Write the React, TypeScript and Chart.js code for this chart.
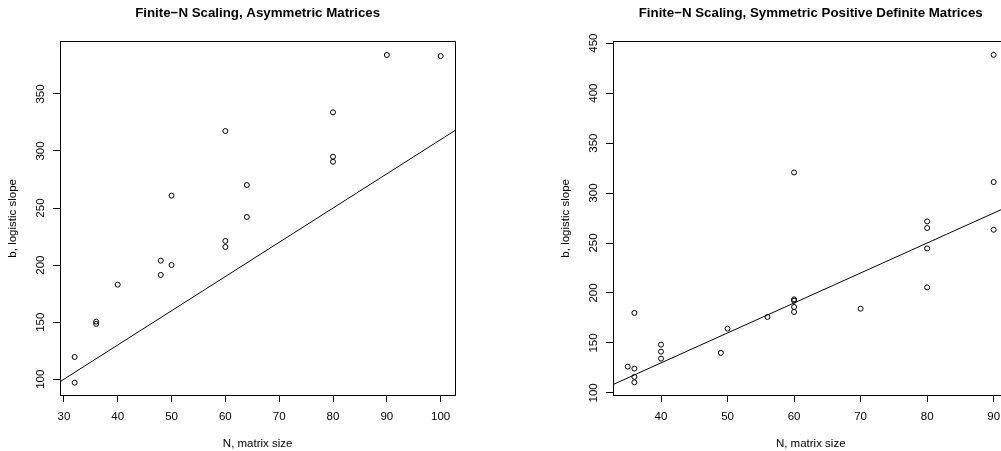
import React, { useEffect, useRef } from 'react';
import { Chart, registerables } from 'chart.js';

Chart.register(...registerables);

const FONT = '"Liberation Sans", Arial, Helvetica, sans-serif';

// ---- Left panel: asymmetric matrices ----
const ASYM_TITLE = 'Finite\u2212N Scaling, Asymmetric Matrices';
const ASYM_N = [32, 32, 36, 36, 40, 48, 48, 50, 50, 60, 60, 60, 64, 64, 80, 80, 80, 90, 100];
const ASYM_B = [97.0, 119.5, 148.5, 150.5, 182.9, 191.4, 203.9, 200.1, 260.9, 215.9, 221.2, 317.5, 242.2, 270.2, 290.6, 295.0, 333.9, 384.1, 383.2];
const ASYM_INTERCEPT = 10;
const ASYM_SLOPE = 3;
const ASYM_X_RANGE = [29.28, 102.72];
const ASYM_Y_RANGE = [86.2, 395.8];
const ASYM_X_TICKS = [30, 40, 50, 60, 70, 80, 90, 100];
const ASYM_Y_TICKS = [100, 150, 200, 250, 300, 350];

// ---- Right panel: symmetric positive definite matrices ----
const SPD_TITLE = 'Finite\u2212N Scaling, Symmetric Positive Definite Matrices';
const SPD_N = [35, 36, 36, 36, 36, 40, 40, 40, 49, 50, 56, 60, 60, 60, 60, 60, 70, 80, 80, 80, 80, 90, 90, 90];
const SPD_B = [126.3, 110.6, 116.0, 124.3, 180.0, 134.3, 141.3, 148.3, 140.0, 164.3, 176.0, 181.0, 186.0, 192.3, 193.6, 320.6, 184.3, 205.6, 244.6, 265.0, 271.6, 263.3, 311.0, 438.3];
const SPD_INTERCEPT = 10;
const SPD_SLOPE = 3;
const SPD_X_RANGE = [32.8, 92.2];
const SPD_Y_RANGE = [97.9, 451.5];
const SPD_X_TICKS = [40, 50, 60, 70, 80, 90];
const SPD_Y_TICKS = [100, 150, 200, 250, 300, 350, 400, 450];

const X_LABEL = 'N, matrix size';
const Y_LABEL = 'b, logistic slope';

const boxPlugin = {
  id: 'rbox',
  afterDatasetsDraw(chart: any) {
    const { ctx, chartArea } = chart;
    const l = Math.floor(chartArea.left) + 0.5;
    const t = Math.floor(chartArea.top) + 0.5;
    const r = Math.floor(chartArea.right) + 0.5;
    const b = Math.floor(chartArea.bottom) + 0.5;
    ctx.save();
    ctx.strokeStyle = '#000';
    ctx.lineWidth = 1;
    ctx.strokeRect(l, t, r - l, b - t);
    ctx.restore();
  },
};

type Panel = {
  title: string;
  xs: number[];
  ys: number[];
  intercept: number;
  slope: number;
  xRange: number[];
  yRange: number[];
  xTicks: number[];
  yTicks: number[];
  padLeft: number;
  padRight: number;
};

function makeConfig(p: Panel): any {
  const pts = p.xs.map((x, i) => ({ x, y: p.ys[i] }));
  const fit = p.xRange.map((x) => ({ x, y: p.intercept + p.slope * x }));
  return {
    type: 'scatter',
    data: {
      datasets: [
        {
          data: pts,
          pointStyle: 'circle',
          pointRadius: 2.5,
          pointBorderWidth: 1,
          pointBorderColor: '#000',
          pointBackgroundColor: 'rgba(0,0,0,0)',
          borderColor: '#000',
          backgroundColor: 'rgba(0,0,0,0)',
          showLine: false,
        },
        {
          data: fit,
          showLine: true,
          borderColor: '#000',
          borderWidth: 1,
          pointRadius: 0,
          tension: 0,
          fill: false,
        },
      ],
    },
    options: {
      responsive: false,
      animation: false,
      devicePixelRatio: 1,
      events: [],
      layout: { padding: { left: p.padLeft, right: p.padRight, top: 0, bottom: 0 } },
      plugins: {
        legend: { display: false },
        tooltip: { enabled: false },
        title: {
          display: true,
          text: p.title,
          fullSize: false,
          color: '#000',
          font: { family: FONT, size: 13.3, weight: 'bold', lineHeight: 1.2 },
          padding: { top: 5.4, bottom: 20.3 },
        },
      },
      scales: {
        x: {
          type: 'linear',
          position: 'bottom',
          min: p.xRange[0],
          max: p.xRange[1],
          afterBuildTicks: (s: any) => {
            s.ticks = p.xTicks.map((v) => ({ value: v }));
          },
          afterFit: (s: any) => {
            s.height = 56;
          },
          grid: { display: true, drawOnChartArea: false, drawTicks: true, tickLength: 7, color: '#000', tickColor: '#000', lineWidth: 1 },
          border: { display: false },
          ticks: {
            autoSkip: false,
            maxRotation: 0,
            minRotation: 0,
            padding: 8.4,
            color: '#000',
            font: { family: FONT, size: 11.5, lineHeight: 1.2 },
            callback: (v: any) => String(v),
          },
          title: {
            display: true,
            text: X_LABEL,
            color: '#000',
            font: { family: FONT, size: 11.5, lineHeight: 1.2 },
            padding: { top: 0, bottom: 0.3 },
          },
        },
        y: {
          type: 'linear',
          position: 'left',
          min: p.yRange[0],
          max: p.yRange[1],
          afterBuildTicks: (s: any) => {
            s.ticks = p.yTicks.map((v) => ({ value: v }));
          },
          afterFit: (s: any) => {
            s.width = 60;
          },
          grid: { display: true, drawOnChartArea: false, drawTicks: true, tickLength: 7, color: '#000', tickColor: '#000', lineWidth: 1 },
          border: { display: false },
          ticks: {
            autoSkip: false,
            minRotation: 90,
            maxRotation: 90,
            crossAlign: 'center',
            padding: 2.7,
            color: '#000',
            font: { family: FONT, size: 11.5, lineHeight: 1.2 },
            callback: (v: any) => String(v),
          },
          title: {
            display: true,
            text: Y_LABEL,
            color: '#000',
            font: { family: FONT, size: 11.5, lineHeight: 1.2 },
            padding: { top: 5.6, bottom: 0 },
          },
        },
      },
    },
    plugins: [boxPlugin],
  };
}

const LEFT_PANEL: Panel = {
  title: ASYM_TITLE,
  xs: ASYM_N,
  ys: ASYM_B,
  intercept: ASYM_INTERCEPT,
  slope: ASYM_SLOPE,
  xRange: ASYM_X_RANGE,
  yRange: ASYM_Y_RANGE,
  xTicks: ASYM_X_TICKS,
  yTicks: ASYM_Y_TICKS,
  padLeft: 0,
  padRight: 44.7,
};

const RIGHT_PANEL: Panel = {
  title: SPD_TITLE,
  xs: SPD_N,
  ys: SPD_B,
  intercept: SPD_INTERCEPT,
  slope: SPD_SLOPE,
  xRange: SPD_X_RANGE,
  yRange: SPD_Y_RANGE,
  xTicks: SPD_X_TICKS,
  yTicks: SPD_Y_TICKS,
  padLeft: 53.1,
  padRight: 51.7,
};

function PanelChart({ panel, left, width }: { panel: Panel; left: number; width: number }) {
  const ref = useRef<HTMLCanvasElement | null>(null);
  useEffect(() => {
    if (!ref.current) return;
    const chart = new Chart(ref.current, makeConfig(panel));
    return () => chart.destroy();
  }, [panel]);
  return (
    <canvas
      ref={ref}
      width={width}
      height={451}
      style={{ position: 'absolute', left, top: 0, width, height: 451, display: 'block' }}
    />
  );
}

export default function App() {
  return (
    <div
      style={{
        position: 'fixed',
        left: 0,
        top: 0,
        width: 1001,
        height: 451,
        overflow: 'hidden',
        background: '#fff',
      }}
    >
      <PanelChart panel={LEFT_PANEL} left={0} width={500} />
      <PanelChart panel={RIGHT_PANEL} left={500} width={560} />
    </div>
  );
}
